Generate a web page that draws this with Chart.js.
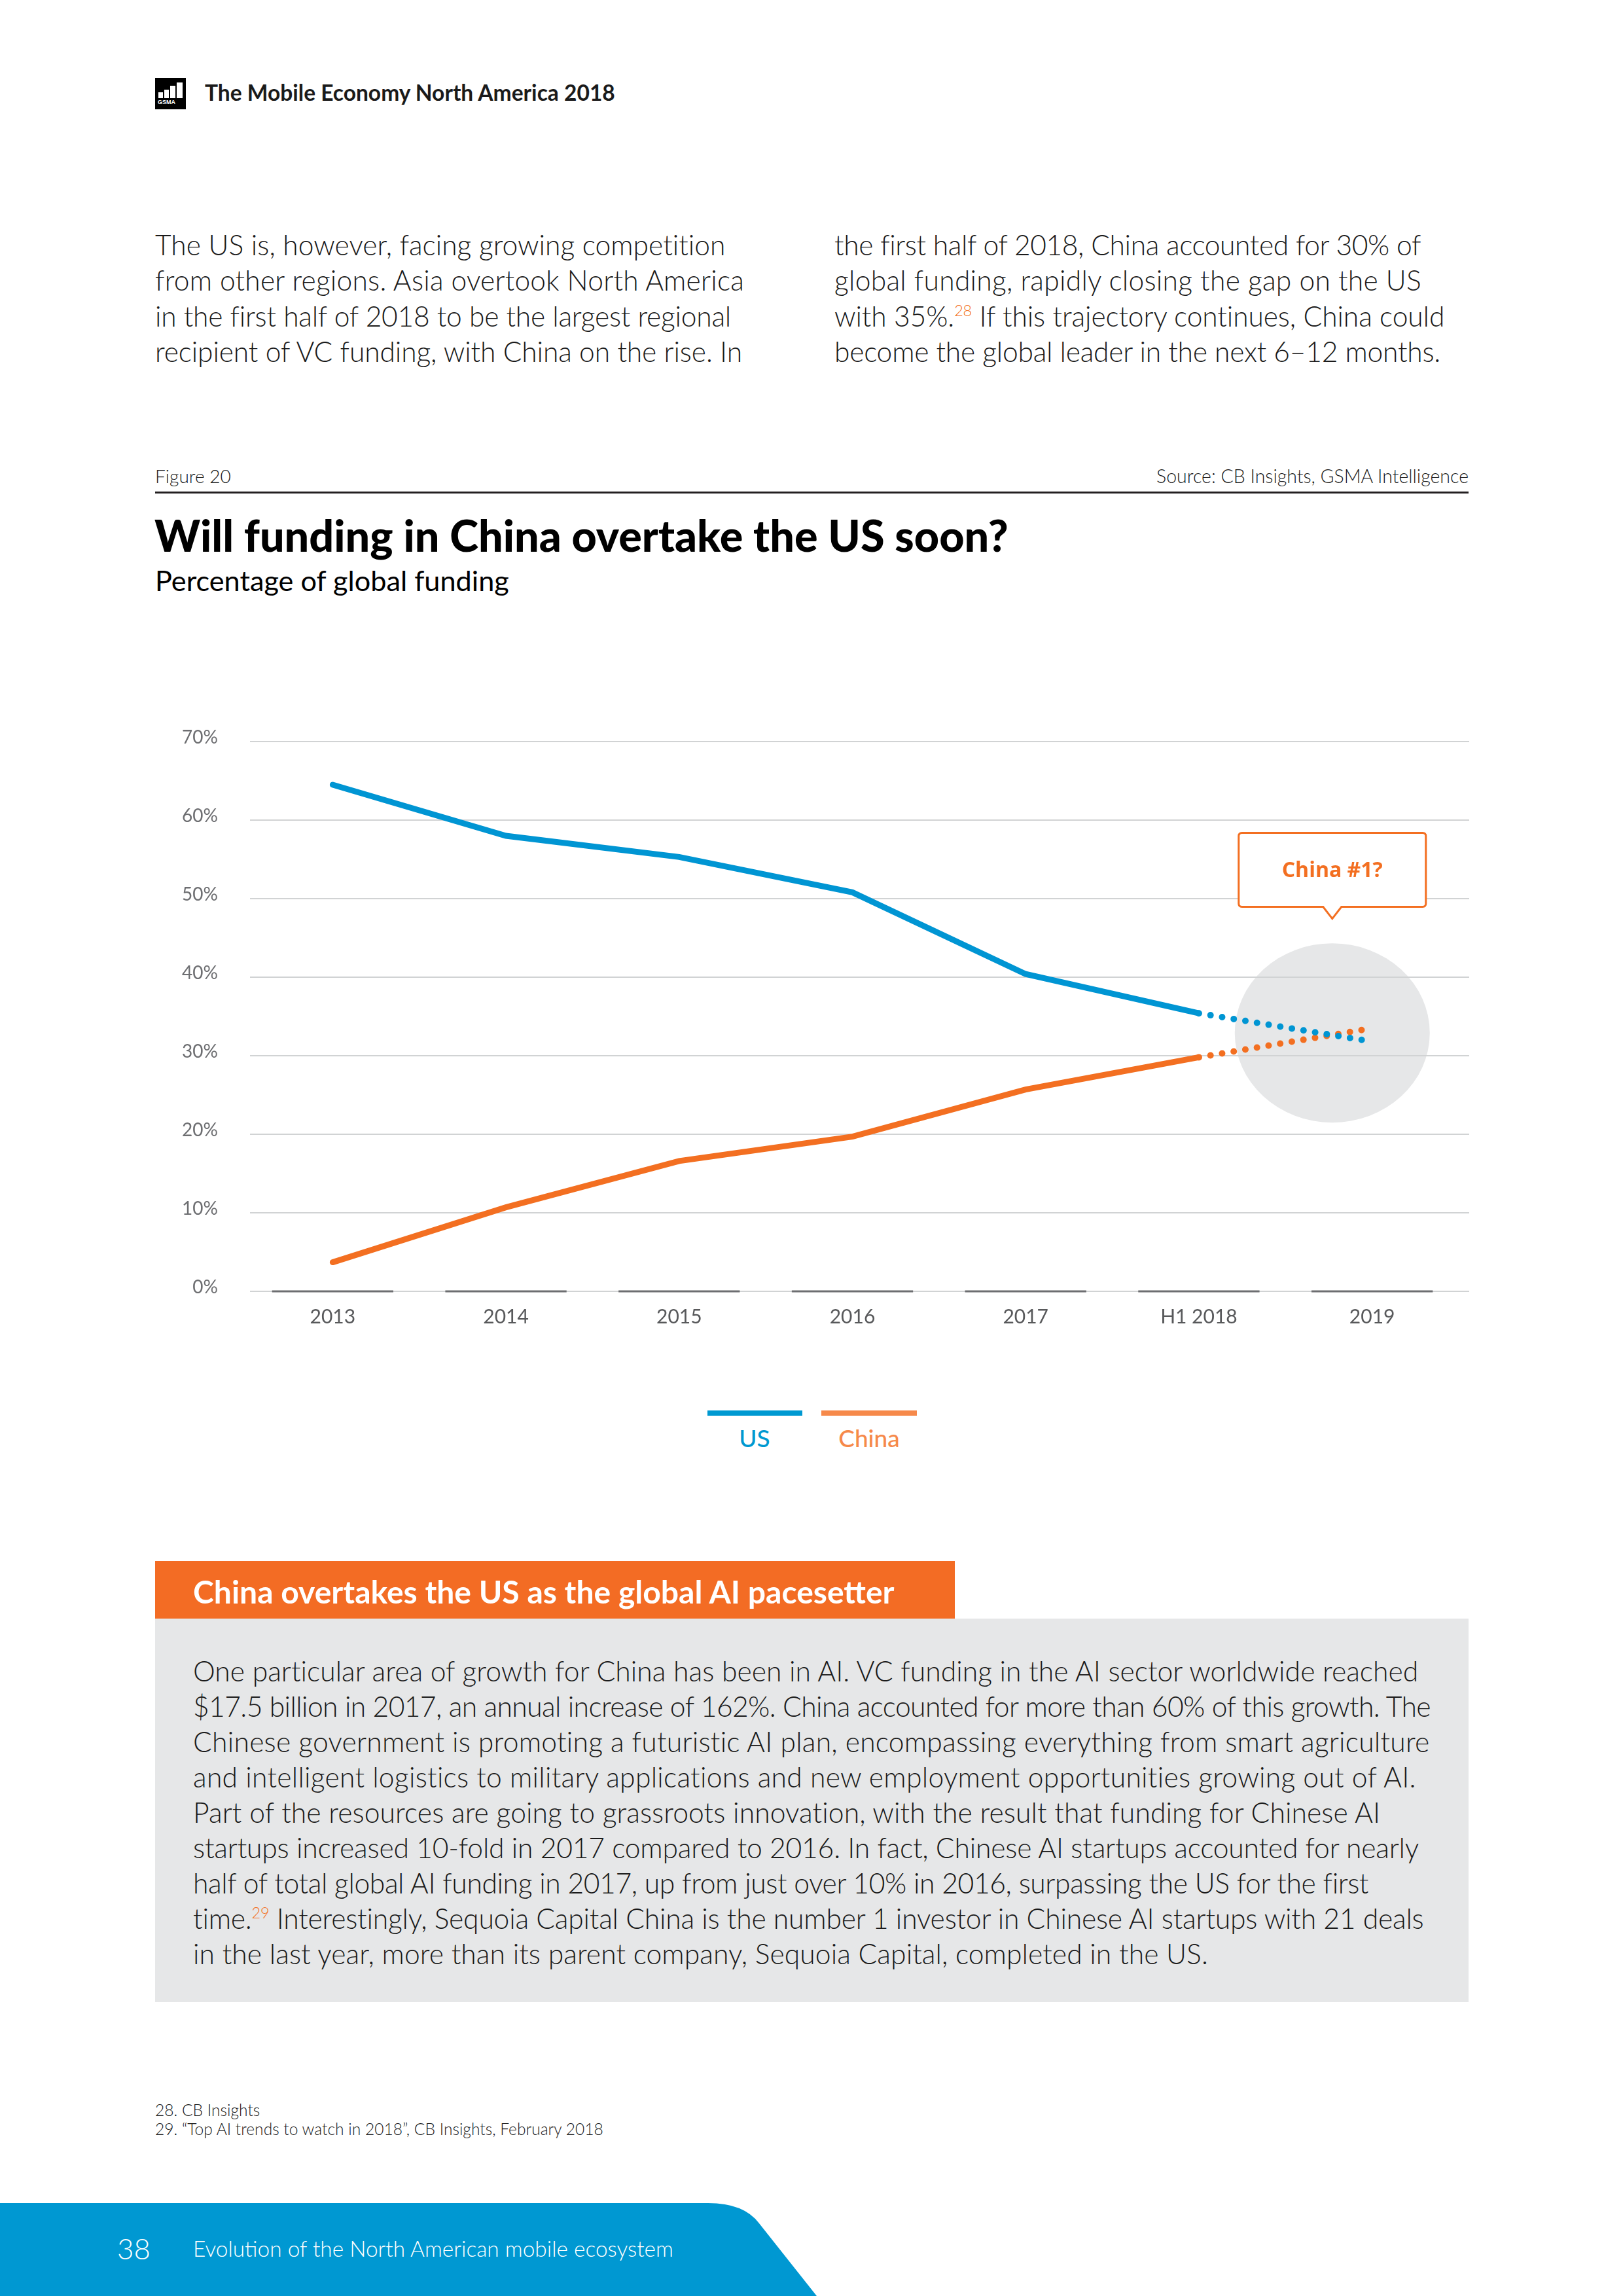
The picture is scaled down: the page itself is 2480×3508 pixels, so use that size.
<!DOCTYPE html>
<html>
<head>
<meta charset="utf-8">
<script src="https://cdn.jsdelivr.net/npm/chart.js@4.4.1/dist/chart.umd.min.js"></script>
<style>
  html, body { margin: 0; padding: 0; }
  body { width: 2480px; height: 3508px; position: relative; overflow: hidden; background: #fff; font-family: "Lato", "Noto Sans", sans-serif; color: #1a1a1a; }
  .abs { position: absolute; white-space: nowrap; }
  .ln { position: absolute; white-space: nowrap; line-height: 60px; height: 60px; }
  .fit { display: inline-block; }
  sup { color: #f36f21; font-size: 55%; vertical-align: 0.7em; line-height: 0; }
</style>
</head>
<body>

<!-- header -->
<div class="abs" style="left:237px;top:119px;width:47px;height:48px;background:#000;">
  <div class="abs" style="left:5px;top:22px;width:7px;height:9px;background:#fff;"></div>
  <div class="abs" style="left:14px;top:18px;width:7px;height:13px;background:#fff;"></div>
  <div class="abs" style="left:23px;top:12px;width:8px;height:19px;background:#fff;"></div>
  <div class="abs" style="left:33px;top:7px;width:9px;height:24px;background:#fff;"></div>
  <div class="abs" style="left:4px;top:32px;width:40px;font:bold 9px 'Liberation Sans';color:#fff;line-height:10px;">GSMA</div>
</div>
<div class="ln" style="left:313px;top:111px;font-weight:700;font-size:29px;"><span class="fit" data-fs="627">The Mobile Economy North America 2018</span></div>

<!-- intro columns -->
<div data-group="1" style="font-weight:300;font-size:40px;">
  <div class="ln" style="left:237px;top:344px;"><span class="fit" data-fs="873" data-w="873">The US is, however, facing growing competition</span></div>
  <div class="ln" style="left:237px;top:398px;"><span class="fit" data-w="900">from other regions. Asia overtook North America</span></div>
  <div class="ln" style="left:237px;top:453px;"><span class="fit" data-w="879">in the first half of 2018 to be the largest regional</span></div>
  <div class="ln" style="left:237px;top:507px;"><span class="fit" data-w="897">recipient of VC funding, with China on the rise. In</span></div>
  <div class="ln" style="left:1275px;top:344px;"><span class="fit" data-w="895">the first half of 2018, China accounted for 30% of</span></div>
  <div class="ln" style="left:1275px;top:398px;"><span class="fit" data-w="897">global funding, rapidly closing the gap on the US</span></div>
  <div class="ln" style="left:1275px;top:453px;"><span class="fit" data-w="933">with 35%.<sup>28</sup> If this trajectory continues, China could</span></div>
  <div class="ln" style="left:1275px;top:507px;"><span class="fit" data-w="926">become the global leader in the next 6–12 months.</span></div>
</div>

<!-- figure header -->
<div class="ln" style="left:237px;top:697px;font-weight:300;font-size:24px;"><span class="fit" data-fs="116">Figure 20</span></div>
<div class="ln" style="right:236px;top:697px;font-weight:300;font-size:24px;"><span class="fit" data-fs="477">Source: CB Insights, GSMA Intelligence</span></div>
<div class="abs" style="left:237px;top:751px;width:2007px;height:3px;background:#231f20;"></div>
<div class="ln" style="left:236px;top:787px;font-weight:900;font-size:58px;color:#000;"><span class="fit" data-fs="1305">Will funding in China overtake the US soon?</span></div>
<div class="ln" style="left:237px;top:856px;font-weight:400;font-size:36px;color:#000;"><span class="fit" data-fs="541">Percentage of global funding</span></div>

<!-- chart -->
<div style="position:absolute;left:239px;top:1080px;width:2021px;height:990px;">
  <canvas id="cvs"></canvas>
</div>

<!-- legend -->
<div class="abs" style="left:1081px;top:2155px;width:145px;height:8px;background:#0099d1;"></div>
<div class="abs" style="left:1255px;top:2155px;width:146px;height:8px;background:#f6894a;"></div>
<div class="ln" style="left:1053px;width:200px;text-align:center;top:2167px;font-size:37px;font-weight:500;color:#0099d1;">US</div>
<div class="ln" style="left:1228px;width:200px;text-align:center;top:2167px;font-size:37px;font-weight:500;color:#f6894a;">China</div>

<!-- box -->
<div class="abs" style="left:237px;top:2385px;width:1222px;height:88px;background:#f36c24;"></div>
<div class="ln" style="left:295px;top:2402px;font-weight:700;font-size:40px;color:#fff;"><span class="fit" data-fs="1072">China overtakes the US as the global AI pacesetter</span></div>
<div class="abs" style="left:237px;top:2473px;width:2007px;height:586px;background:#e6e7e8;"></div>
<div data-group="1" style="font-weight:300;font-size:40px;">
  <div class="ln" style="left:295px;top:2523px;"><span class="fit" data-fs="1873" data-w="1873">One particular area of growth for China has been in AI. VC funding in the AI sector worldwide reached</span></div>
  <div class="ln" style="left:295px;top:2577px;"><span class="fit" data-w="1891">$17.5 billion in 2017, an annual increase of 162%. China accounted for more than 60% of this growth. The</span></div>
  <div class="ln" style="left:295px;top:2631px;"><span class="fit" data-w="1891">Chinese government is promoting a futuristic AI plan, encompassing everything from smart agriculture</span></div>
  <div class="ln" style="left:295px;top:2685px;"><span class="fit" data-w="1871">and intelligent logistics to military applications and new employment opportunities growing out of AI.</span></div>
  <div class="ln" style="left:295px;top:2739px;"><span class="fit" data-w="1815">Part of the resources are going to grassroots innovation, with the result that funding for Chinese AI</span></div>
  <div class="ln" style="left:295px;top:2793px;"><span class="fit" data-w="1873">startups increased 10-fold in 2017 compared to 2016. In fact, Chinese AI startups accounted for nearly</span></div>
  <div class="ln" style="left:295px;top:2847px;"><span class="fit" data-w="1795">half of total global AI funding in 2017, up from just over 10% in 2016, surpassing the US for the first</span></div>
  <div class="ln" style="left:295px;top:2901px;"><span class="fit" data-w="1882">time.<sup>29</sup> Interestingly, Sequoia Capital China is the number 1 investor in Chinese AI startups with 21 deals</span></div>
  <div class="ln" style="left:295px;top:2955px;"><span class="fit" data-w="1551">in the last year, more than its parent company, Sequoia Capital, completed in the US.</span></div>
</div>

<!-- footnotes -->
<div data-group="1" style="font-weight:300;font-size:22px;">
  <div class="ln" style="left:237px;top:3194px;">28. CB Insights</div>
  <div class="ln" style="left:237px;top:3223px;"><span class="fit" data-fs="685">29. “Top AI trends to watch in 2018”, CB Insights, February 2018</span></div>
</div>

<!-- footer -->
<svg class="abs" style="left:0;top:3300px;" width="2480" height="208" viewBox="0 3300 2480 208">
  <path d="M0,3366 L1082,3366 Q1137,3366 1160,3397 L1248,3508 L0,3508 Z" fill="#0098d2"/>
</svg>
<div class="ln" style="left:179px;top:3405px;font-weight:300;font-size:44px;color:#fff;">38</div>
<div class="ln" style="left:295px;top:3405px;font-weight:300;font-size:30px;color:#fff;"><span class="fit" data-fs="734">Evolution of the North American mobile ecosystem</span></div>

<script>
// size texts to the widths they have on the page
document.querySelectorAll('[data-fs]').forEach(function (el) {
	var w = el.getBoundingClientRect().width;
	var fs = parseFloat(getComputedStyle(el).fontSize);
	var box = el.closest('[data-group]') || el.parentNode;
	box.style.fontSize = (fs * (+el.dataset.fs) / w) + 'px';
});
document.querySelectorAll('[data-w]').forEach(function (el) {
	var w = el.getBoundingClientRect().width;
	el.style.letterSpacing = ((+el.dataset.w - w) / el.textContent.length) + 'px';
});

// data
const years = ['2013', '2014', '2015', '2016', '2017', 'H1 2018', '2019'];
const usShare = [64.5, 58.0, 55.3, 50.8, 40.4, 35.4, 31.8];
const chinaShare = [3.7, 10.7, 16.6, 19.7, 25.7, 29.8, 33.5];
const forecastIndex = 6; // 2019 is a projection (dotted)
const calloutText = 'China #1?';

const usBlue = '#0095d3';
const chinaOrange = '#f36f21';

// dotted segment towards the forecast point
function forecastDash(ctx) {
	return ctx.p1DataIndex === forecastIndex ? [0, 18] : undefined;
}
function forecastWidth(ctx) {
	return ctx.p1DataIndex === forecastIndex ? 10 : undefined;
}

const decor = {
	id: 'decor',
	beforeDraw: function (chart) {
		const ctx = chart.ctx, x = chart.scales.x, y = chart.scales.y, area = chart.chartArea;
		ctx.save();
		// grey bubble behind the crossing
		ctx.fillStyle = '#e6e7e8';
		ctx.beginPath();
		ctx.ellipse(x.getPixelForValue(5.77), y.getPixelForValue(32.9), 149, 137, 0, 0, Math.PI * 2);
		ctx.fill();
		// horizontal grid, runs a bit past the plot on the right
		ctx.strokeStyle = '#d1d3d4';
		ctx.lineWidth = 2;
		y.ticks.forEach(function (t) {
			const py = y.getPixelForValue(t.value);
			ctx.beginPath();
			ctx.moveTo(area.left + 6, py);
			ctx.lineTo(area.right + 16, py);
			ctx.stroke();
		});
		ctx.restore();
	},
	beforeDatasetsDraw: function (chart) {
		const ctx = chart.ctx, x = chart.scales.x, y = chart.scales.y;
		const step = x.getPixelForValue(1) - x.getPixelForValue(0);
		const y0 = y.getPixelForValue(0);
		ctx.save();
		ctx.strokeStyle = '#6d6e71';
		ctx.lineWidth = 3;
		for (let i = 0; i < years.length; i++) {
			const cx = x.getPixelForValue(i);
			ctx.beginPath();
			ctx.moveTo(cx - step * 0.35, y0);
			ctx.lineTo(cx + step * 0.35, y0);
			ctx.stroke();
		}
		// callout box
		const bx = x.getPixelForValue(5.77);
		const tip = y.getPixelForValue(47.45);
		const bottom = tip - 18, top = bottom - 113, hw = 143, r = 5;
		ctx.beginPath();
		ctx.moveTo(bx - hw + r, top);
		ctx.lineTo(bx + hw - r, top);
		ctx.quadraticCurveTo(bx + hw, top, bx + hw, top + r);
		ctx.lineTo(bx + hw, bottom - r);
		ctx.quadraticCurveTo(bx + hw, bottom, bx + hw - r, bottom);
		ctx.lineTo(bx + 14, bottom);
		ctx.lineTo(bx, tip);
		ctx.lineTo(bx - 14, bottom);
		ctx.lineTo(bx - hw + r, bottom);
		ctx.quadraticCurveTo(bx - hw, bottom, bx - hw, bottom - r);
		ctx.lineTo(bx - hw, top + r);
		ctx.quadraticCurveTo(bx - hw, top, bx - hw + r, top);
		ctx.closePath();
		ctx.fillStyle = '#fff';
		ctx.fill();
		ctx.strokeStyle = chinaOrange;
		ctx.lineWidth = 3;
		ctx.stroke();
		ctx.fillStyle = chinaOrange;
		ctx.font = 'bold 32px "Open Sans"';
		ctx.textAlign = 'center';
		ctx.textBaseline = 'middle';
		ctx.fillText(calloutText, bx, (top + bottom) / 2 + 2);
		ctx.restore();
	}
};

var chart = new Chart('cvs', {
	type: 'line',
	data: {
		labels: years,
		datasets: [{
			label: 'US',
			data: usShare,
			borderColor: usBlue,
			borderWidth: 9,
			borderCapStyle: 'round',
			pointRadius: 0,
			segment: { borderDash: forecastDash, borderWidth: forecastWidth }
		}, {
			label: 'China',
			data: chinaShare,
			borderColor: chinaOrange,
			borderWidth: 9,
			borderCapStyle: 'round',
			pointRadius: 0,
			segment: { borderDash: forecastDash, borderWidth: forecastWidth }
		}]
	},
	options: {
		responsive: true,
		maintainAspectRatio: false,
		animation: false,
		events: [],
		layout: { padding: { top: 53, right: 31, left: 0, bottom: 0 } },
		plugins: { legend: { display: false }, tooltip: { enabled: false } },
		scales: {
			x: {
				offset: true,
				grid: { display: false },
				border: { display: false },
				ticks: { color: '#58595b', font: { family: 'Lato', size: 30, weight: 400 }, padding: 13 },
				afterFit: function (s) { s.height = 97; }
			},
			y: {
				min: 0,
				max: 70,
				grid: { display: false },
				border: { display: false },
				ticks: {
					stepSize: 10,
					color: '#6d6e71',
					font: { family: 'Lato', size: 28, weight: 400 },
					padding: 35,
					labelOffset: -6,
					callback: function (v) { return v + '%'; }
				},
				afterFit: function (s) { s.width = 137; }
			}
		}
	},
	plugins: [decor]
});
</script>
</body>
</html>
